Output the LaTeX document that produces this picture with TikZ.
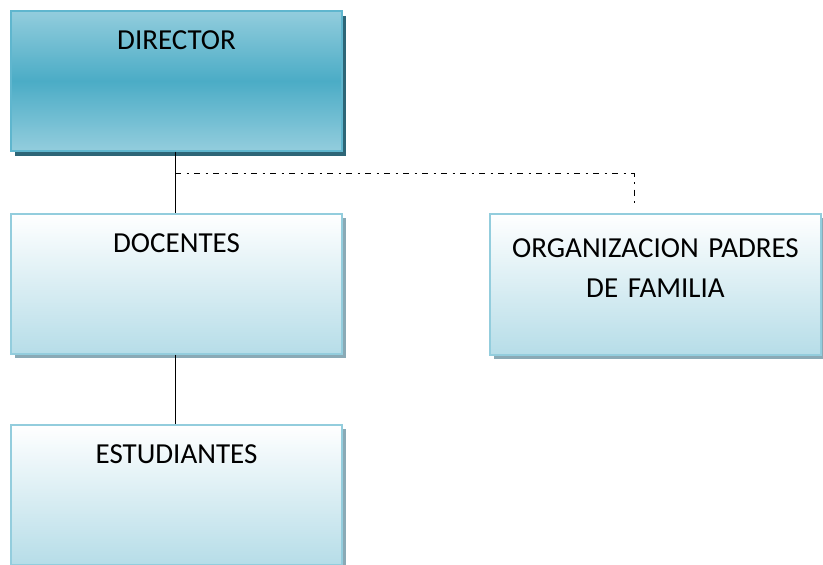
\documentclass[tikz,border=0pt]{standalone}
\usepackage{fontspec}
\setmainfont{Carlito}
\usetikzlibrary{shadows}

\definecolor{dirlight}{HTML}{93CDDD}
\definecolor{dirdark}{HTML}{4BACC6}
\definecolor{dirborder}{HTML}{5FB6CE}
\definecolor{dirshadow}{HTML}{2E6677}
\definecolor{boxbottom}{HTML}{B6DDE8}
\definecolor{boxborder}{HTML}{93CDDD}
\definecolor{boxshadow}{HTML}{8AAAB6}

\tikzset{
  orgbox/.style={rectangle, minimum width=331pt, inner sep=0pt, line width=1.6pt,
    text width=320pt, align=center, text height=39pt, text depth=101pt,
    font=\fontsize{29}{40}\selectfont},
  topbox/.style={orgbox, draw=dirborder, top color=dirlight, bottom color=dirlight,
    middle color=dirdark,
    drop shadow={shadow xshift=4pt, shadow yshift=-5pt, fill=dirshadow, opacity=1}},
  subbox/.style={orgbox, draw=boxborder, top color=white, bottom color=boxbottom,
    drop shadow={shadow xshift=4pt, shadow yshift=-4pt, fill=boxshadow, opacity=1}},
  dashdot/.style={line width=1pt, dash pattern=on 6pt off 5.5pt on 2pt off 5.5pt}
}

\begin{document}
\begin{tikzpicture}[x=1pt, y=-1pt]
			\useasboundingbox (0,0) rectangle (823,565);
			
			% director
			\node[topbox] (dir) at (176.5,10) [anchor=north] {DIRECTOR};
			
			% docentes
			\node[subbox] (doc) at (176.5,213) [anchor=north] {DOCENTES};
			
			% estudiantes
			\node[subbox] (est) at (176.5,424) [anchor=north] {ESTUDIANTES};
			
			% padres de familia
			\node[subbox, text height=44pt, text depth=97pt] (org) at (655.5,213) [anchor=north] {ORGANIZACION PADRES\\DE FAMILIA};
			
			% lines
			\draw[line width=1pt] ([xshift=-1.5pt]dir.south) -- ([xshift=-1.5pt]doc.north);
			\draw[line width=1pt] ([xshift=-1.5pt]doc.south) -- ([xshift=-1.5pt]est.north);
			
			% dotted link
			\coordinate (branch) at ([xshift=-1.5pt, yshift=-22pt]dir.south);
			\coordinate (orgend) at ([xshift=-21.5pt, yshift=5pt]org.north);
			\draw[dashdot] (branch) -| (orgend);
		\end{tikzpicture}
\end{document}
